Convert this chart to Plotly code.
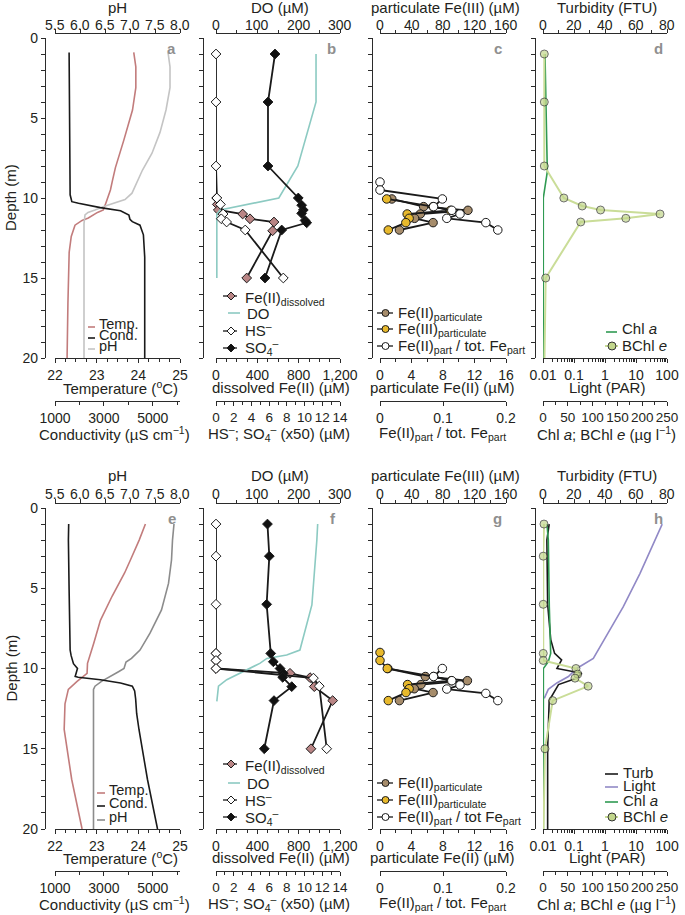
import plotly.graph_objects as go

# ---------------- DATA ----------------
# Panel a: CTD profiles (top row)
a_temp_depth = [0.9, 1.8, 3.1, 4.5, 6.4, 8.1, 8.9, 9.5, 10.25, 10.75, 10.9, 11.25, 11.4, 11.7, 12.4, 13.4, 16.6, 20.0]
a_temp = [23.89, 23.94, 23.94, 23.86, 23.65, 23.45, 23.38, 23.33, 23.23, 23.16, 23.02, 22.80, 22.65, 22.48, 22.39, 22.34, 22.31, 22.29]
a_cond_depth = [0.9, 5.0, 8.9, 9.8, 10.23, 10.33, 10.6, 10.8, 11.06, 11.33, 11.48, 11.7, 12.3, 13.7, 20.0]
a_cond = [1577, 1598, 1619, 1619, 1689, 1961, 2856, 3680, 4023, 4064, 4163, 4476, 4616, 4670, 4670]
a_ph_depth = [0.9, 1.8, 3.1, 4.5, 5.9, 7.2, 8.25, 8.9, 9.7, 10.1, 10.3, 10.55, 10.75, 10.9, 11.05, 11.6, 20.0]
a_ph = [7.76, 7.80, 7.80, 7.72, 7.60, 7.44, 7.25, 7.16, 7.04, 6.90, 6.70, 6.46, 6.30, 6.16, 6.10, 6.08, 6.08]

# Panel b
b_do_depth = [1, 4, 8, 10, 10.75, 11, 15]
b_do = [242, 242, 198, 152, 10, 2, 2]
b_hs_depth = [1, 4, 8, 10.0, 10.4, 11.0, 11.3, 11.5, 12.0, 15]
b_hs = [0, 0, 0, 0.1, 0.5, 0.8, 0.6, 1.2, 3.3, 7.6]
b_so4_depth = [1, 4, 8, 10.0, 10.45, 10.75, 10.96, 11.4, 11.55, 12.0, 15]
b_so4 = [6.66, 5.87, 5.87, 9.29, 9.67, 9.86, 9.67, 10.05, 10.24, 7.42, 5.53]
b_fe_depth = [10.0, 10.4, 10.75, 11.0, 11.3, 11.5, 12.05, 15]
b_fe = [6, 13, 22, 258, 329, 561, 548, 297]

# Panel c
c_fe_depth = [10.06, 10.54, 10.77, 11.0, 11.27, 11.54, 12.0]
c_fe2 = [1.5, 5.54, 11.17, 5.12, 4.39, 6.74, 2.47]
c_fe3 = [8.5, 67.3, 89.6, 34.5, 37.0, 32.8, 10.5]
c_ratio_depth = [9.0, 9.5, 10.06, 10.54, 10.77, 11.0, 11.27, 11.54, 12.0]
c_ratio = [0.0, 0.0, 0.099, 0.085, 0.114, 0.127, 0.106, 0.168, 0.187]

# Panel d
d_chl_depth = [1, 8, 8.35, 10, 20]
d_chl = [4, 8, 8.7, 0.6, 0.5]
d_bchl_depth = [1, 4, 8, 10, 10.5, 10.75, 11.0, 11.27, 11.5, 15, 20]
d_bchl = [2.6, 2.6, 2.6, 42, 79, 116, 236, 167, 76, 5.4, 3]

# Panel e (bottom row)
e_temp_depth = [1.0, 2.0, 3.24, 4.05, 5.5, 7.0, 8.43, 9.37, 9.68, 10.3, 10.8, 11.3, 12.2, 13.8, 16.9, 20.0]
e_temp = [24.17, 24.02, 23.81, 23.67, 23.37, 23.09, 22.93, 22.83, 22.78, 22.77, 22.53, 22.32, 22.24, 22.22, 22.40, 22.65]
e_cond_depth = [1.0, 2.0, 5.1, 8.85, 9.2, 9.7, 10.0, 10.3, 10.5, 10.55, 10.7, 10.9, 11.1, 11.4, 11.9, 12.8, 13.8, 16.9, 20.0]
e_cond = [1560, 1548, 1577, 1619, 1660, 1755, 1920, 1866, 1825, 1948, 2856, 3680, 4163, 4258, 4299, 4340, 4435, 4781, 5194]
e_ph_depth = [1.0, 2.0, 3.24, 4.7, 6.35, 7.8, 8.85, 9.37, 9.6, 10.0, 10.2, 10.5, 10.8, 11.1, 11.3, 20.0]
e_ph = [7.88, 7.85, 7.83, 7.77, 7.63, 7.40, 7.20, 7.03, 6.92, 6.88, 6.77, 6.60, 6.43, 6.30, 6.27, 6.27]

# Panel f
f_do_depth = [1, 2, 6.04, 8.85, 9.16, 9.37, 9.68, 10.3, 10.7, 11.1, 12.05]
f_do = [246, 244, 232, 203, 171, 123, 106, 58, 26, 6, 2]
f_hs_depth = [1, 3, 6, 9.06, 9.5, 10.0, 10.6, 11.1, 15]
f_hs = [0, 0, 0, 0, 0, 0, 11.0, 11.66, 12.5]
f_so4_depth = [1, 3, 6, 9.06, 9.58, 10.0, 10.3, 10.55, 11.13, 12.0, 15]
f_so4 = [5.81, 6.02, 5.72, 6.18, 6.47, 7.23, 7.6, 7.53, 8.55, 6.55, 5.45]
f_fe_depth = [9.06, 9.5, 10.0, 10.3, 10.57, 11.13, 12.0, 15]
f_fe = [0, 0, 0, 716, 910, 951, 1129, 919]

# Panel g
g_fe2_depth = [10.0, 10.5, 10.76, 11.0, 11.26, 11.5, 12.0]
g_fe2 = [1.0, 5.76, 11.1, 5.2, 4.35, 6.74, 2.47]
g_fe3_depth = [9.0, 9.5, 10.0, 10.5, 10.76, 11.0, 11.26, 11.5, 12.0]
g_fe3 = [0, 0, 9.2, 68, 90.5, 35, 37, 33, 10.5]
g_ratio_depth = [10.0, 10.5, 10.76, 11.03, 11.28, 11.55, 12.0]
g_ratio = [0.099, 0.085, 0.114, 0.127, 0.106, 0.168, 0.187]

# Panel h
h_light_depth = [1.0, 2.0, 4.07, 6.15, 7.6, 9.37, 10.0, 10.5, 10.9, 11.3, 11.86]
h_light = [70, 41, 13.5, 3.9, 1.45, 0.42, 0.122, 0.066, 0.028, 0.0148, 0.011]
h_turb_depth = [1, 2, 6, 8.2, 9.06, 9.47, 10.0, 10.3, 10.6, 11.0, 12.0, 15, 20]
h_turb = [4, 2.5, 3, 5, 7.5, 12, 9, 25, 22, 10, 4, 3, 3]
h_chl_depth = [1, 2, 6.15, 9.06, 9.58, 10.0, 20]
h_chl = [8, 10.7, 12.7, 15.5, 10.7, 0.7, 0.7]
h_bchl_depth = [1, 3, 6, 9.06, 9.5, 10.0, 10.35, 10.6, 11.1, 12.0, 15, 20]
h_bchl = [2, 0.5, 0.5, 0.5, 0.5, 66.5, 70, 64.5, 91, 19.5, 4, 1]

# Tick labels
depth_ticks = [0, 5, 10, 15, 20]
light_ticks = [0.01, 0.1, 1, 10, 100]
light_ticktext = ["0.01", "0.1", "1", "10", "100"]
ratio_ticks = [0, 0.1, 0.2]
ratio_ticktext = ["0", "0.1", "0.2"]
ph_ticks = [5.5, 6.0, 6.5, 7.0, 7.5, 8.0]
do_ticks = [0, 100, 200, 300]
fe3_ticks = [0, 40, 80, 120, 160]
turb_ticks = [0, 20, 40, 60, 80]
panel_letters = ["a", "b", "c", "d", "e", "f", "g", "h"]

# ---------------- STYLE / LAYOUT ----------------
W, H = 685, 915


def px(x):
    return x / W


def py(y):
    return 1 - y / H


FONT = "Liberation Sans, Arial, Helvetica, sans-serif"
TXT = "#231f20"
AX = "#2b2b2b"
FS = 15
TFS = 14

C_TEMP = "#c27c7c"
C_COND = "#1a1a1a"
C_PH = ["#c4c4c4", "#8c8c8c"]
C_DO = "#8ccac2"
C_FED = "#b98585"
C_FE2 = "#a68c6b"
C_FE3 = "#e8b92c"
C_CHL = "#2f9a52"
C_BCHL_L = "#cadd98"
C_BCHL_F = "#c2d68c"
C_LIGHT = "#9189c6"

COLS = [(45, 55, 180), (203, 216, 340), (372, 380, 506), (535, 543, 667)]
ROWS = [dict(top=38, bot=358, tline=33, sline=401, ttitle=8, tlab=25, btitle=387, stitle=433),
        dict(top=508, bot=829, tline=503, sline=871, ttitle=475, tlab=494, btitle=857, stitle=903)]

light_minor = [m * 10 ** e for e in range(-2, 2) for m in range(2, 10)]


def minor(**kw):
    d = dict(ticks="outside", ticklen=3, tickwidth=1, tickcolor=AX, showgrid=False)
    d.update(kw)
    return d


COL_SPECS = [
    dict(bottom=dict(range=[22, 25], tickvals=[22, 23, 24, 25], minor=minor(dtick=0.25)),
         top=dict(range=[5.5, 8.0], tickvals=ph_ticks, fmt="{:.1f}"),
         sec=dict(range=[1000, 6113], tickvals=[1000, 3000, 5000], minor=minor(dtick=1000, tick0=1000))),
    dict(bottom=dict(range=[0, 1200], tickvals=[0, 400, 800, 1200], tickformat=",", minor=minor(dtick=100, tick0=0)),
         top=dict(range=[0, 300], tickvals=do_ticks, minor=minor(dtick=50), fmt="{:g}"),
         sec=dict(range=[0, 14], dtick=2, minor=minor(dtick=1), tickfont=dict(family=FONT, size=13.5, color=TXT))),
    dict(bottom=dict(range=[0, 16], dtick=4, minor=minor(dtick=2)),
         top=dict(range=[0, 160], tickvals=fe3_ticks, minor=minor(dtick=20), fmt="{:g}"),
         sec=dict(range=[0, 0.2], tickvals=ratio_ticks, ticktext=ratio_ticktext)),
    dict(bottom=dict(type="log", range=[-2, 2], tickvals=light_ticks, ticktext=light_ticktext,
                     minor=minor(tickmode="array", tickvals=light_minor)),
         top=dict(range=[0, 80], tickvals=turb_ticks, minor=minor(dtick=10), fmt="{:g}"),
         sec=dict(range=[0, 250], dtick=50, minor=minor(dtick=25), tickfont=dict(family=FONT, size=13.5, color=TXT))),
]

TITLES = [
    ("pH", "Temperature (<sup>o</sup>C)", "Conductivity (µS cm<sup>−1</sup>)"),
    ("DO (µM)", "dissolved Fe(II) (µM)", "HS<sup>–</sup>; SO<sub>4</sub><sup>–</sup> (x50) (µM)"),
    ("particulate Fe(III) (µM)", "particulate Fe(II) (µM)", "Fe(II)<sub>part</sub> / tot. Fe<sub>part</sub>"),
    ("Turbidity (FTU)", "Light (PAR)", "Chl <i>a</i>; BChl <i>e</i> (µg l<sup>−1</sup>)"),
]
TITLE_X = [(117, 120, 114), (280, 281, 279), (445, 442, 442), (607, 607, 606)]

base_axis = dict(showline=True, linecolor=AX, linewidth=1.2, ticks="outside", ticklen=4,
                 tickwidth=1.2, tickcolor=AX, showgrid=False, zeroline=False, tickangle=0,
                 tickfont=dict(family=FONT, size=TFS, color=TXT), automargin=False, fixedrange=True)

layout = dict(width=W, height=H, margin=dict(l=0, r=0, t=0, b=0), showlegend=False,
              paper_bgcolor="white", plot_bgcolor="rgba(0,0,0,0)",
              font=dict(family=FONT, size=FS, color=TXT))
annotations = []
shapes = []


def xname(n):
    return "x" if n == 1 else f"x{n}"


def yname(n):
    return "y" if n == 1 else f"y{n}"


def xkey(n):
    return "xaxis" if n == 1 else f"xaxis{n}"


def ykey(n):
    return "yaxis" if n == 1 else f"yaxis{n}"


def text(x, y, t, anchor="center", size=FS, color=TXT, angle=0):
    annotations.append(dict(xref="paper", yref="paper", x=px(x), y=py(y), text=t, showarrow=False,
                            xanchor=anchor, yanchor="middle", textangle=angle,
                            font=dict(family=FONT, size=size, color=color)))


for r, row in enumerate(ROWS):
    for c, (yl, x0, x1) in enumerate(COLS):
        n = r * 4 + c + 1
        spec = COL_SPECS[c]
        ya = dict(base_axis, domain=[py(row["bot"]), py(row["top"])], range=[20, 0],
                  anchor="free", position=px(yl))
        if c == 0:
            ya.update(tickvals=depth_ticks, showticklabels=True, minor=minor(dtick=1, ticklen=4, tickwidth=1.2))
        else:
            ya.update(dtick=1, showticklabels=False)
        layout[ykey(n)] = ya
        dom = [px(x0), px(x1)]
        layout[xkey(n)] = dict(base_axis, domain=dom, anchor=yname(n), **spec["bottom"])
        top_spec = {k: v for k, v in spec["top"].items() if k != "fmt"}
        layout[xkey(n + 8)] = dict(base_axis, domain=dom, overlaying=xname(n), side="top",
                                   anchor="free", position=py(row["tline"]), showticklabels=False,
                                   **top_spec)
        # top-axis tick labels placed at the axis' own value-to-pixel scale
        lo, hi = spec["top"]["range"]
        for v in spec["top"]["tickvals"]:
            text(x0 + (v - lo) / (hi - lo) * (x1 - x0), row["tlab"], spec["top"]["fmt"].format(v), size=TFS)
        layout[xkey(n + 16)] = dict(base_axis, domain=dom, overlaying=xname(n), side="bottom",
                                    anchor="free", position=py(row["sline"]), **spec["sec"])
        tt, bt, st = TITLES[c]
        tx = TITLE_X[c]
        text(tx[0], row["ttitle"], tt)
        text(tx[1], row["btitle"], bt)
        text(tx[2], row["stitle"], st)
        # panel letter
        text(x1 - 2, row["top"] + 10, f"<b>{panel_letters[n - 1]}</b>", anchor="right", color="#8f8f8f")
    text(11, (row["top"] + row["bot"]) / 2, "Depth (m)", angle=-90)

fig = go.Figure()


def add(n_axis, n_y, x, y, mode="lines", line=None, marker=None):
    fig.add_trace(go.Scatter(x=x, y=y, mode=mode, xaxis=xname(n_axis), yaxis=yname(n_y),
                             line=line or {}, marker=marker or {}, hoverinfo="skip", cliponaxis=False))


LW = 1.6
conn = dict(color="#1a1a1a", width=1.8)


def dia(fill):
    return dict(symbol="diamond", size=7.5, color=fill, line=dict(color="#1a1a1a", width=1))


def circ(fill, size=8.5):
    return dict(symbol="circle", size=size, color=fill, line=dict(color="#1a1a1a", width=1))


# ---- row 1 ----
add(1, 1, a_temp, a_temp_depth, line=dict(color=C_TEMP, width=LW))
add(9, 1, a_ph, a_ph_depth, line=dict(color=C_PH[0], width=LW))
add(17, 1, a_cond, a_cond_depth, line=dict(color=C_COND, width=LW))

add(10, 2, b_do, b_do_depth, line=dict(color=C_DO, width=LW))
add(18, 2, b_hs, b_hs_depth, "lines+markers", conn, dia("white"))
add(18, 2, b_so4, b_so4_depth, "lines+markers", conn, dia("#111111"))
add(2, 2, b_fe, b_fe_depth, "lines+markers", conn, dia(C_FED))

add(19, 3, c_ratio, c_ratio_depth, "lines+markers", conn, circ("white"))
add(3, 3, c_fe2, c_fe_depth, "lines+markers", conn, circ(C_FE2))
add(11, 3, c_fe3, c_fe_depth, "lines+markers", conn, circ(C_FE3))

# panel d has no light / turbidity profile: empty traces keep those axes drawn
add(4, 4, [], [])
add(12, 4, [], [])
add(20, 4, d_chl, d_chl_depth, line=dict(color=C_CHL, width=LW))
d_sizes = [0 if dd >= 20 else 8 for dd in d_bchl_depth]
add(20, 4, d_bchl, d_bchl_depth, "lines+markers", dict(color=C_BCHL_L, width=2),
    dict(symbol="circle", size=d_sizes, color=C_BCHL_F, line=dict(color="#333333", width=1)))

# ---- row 2 ----
add(5, 5, e_temp, e_temp_depth, line=dict(color=C_TEMP, width=LW))
add(13, 5, e_ph, e_ph_depth, line=dict(color=C_PH[1], width=LW))
add(21, 5, e_cond, e_cond_depth, line=dict(color=C_COND, width=LW))

add(14, 6, f_do, f_do_depth, line=dict(color=C_DO, width=LW))
add(22, 6, f_hs, f_hs_depth, "lines+markers", conn, dia("white"))
add(22, 6, f_so4, f_so4_depth, "lines+markers", conn, dia("#111111"))
add(6, 6, f_fe, f_fe_depth, "lines+markers", conn, dia(C_FED))

add(23, 7, g_ratio, g_ratio_depth, "lines+markers", conn, circ("white"))
add(7, 7, g_fe2, g_fe2_depth, "lines+markers", conn, circ(C_FE2))
add(15, 7, g_fe3, g_fe3_depth, "lines+markers", conn, circ(C_FE3))

add(8, 8, h_light, h_light_depth, line=dict(color=C_LIGHT, width=LW))
add(16, 8, h_turb, h_turb_depth, line=dict(color="#1a1a1a", width=LW))
add(24, 8, h_chl, h_chl_depth, line=dict(color=C_CHL, width=LW))
h_sizes = [0 if dd >= 20 else 8 for dd in h_bchl_depth]
add(24, 8, h_bchl, h_bchl_depth, "lines+markers", dict(color=C_BCHL_L, width=2),
    dict(symbol="circle", size=h_sizes, color=C_BCHL_F, line=dict(color="#333333", width=1)))


# ---------------- legends (drawn as layout decorations) ----------------
def lline(x0, x1, y, color, width=1.6):
    shapes.append(dict(type="line", xref="paper", yref="paper", x0=px(x0), x1=px(x1),
                       y0=py(y), y1=py(y), line=dict(color=color, width=width)))


def lcircle(cx, cy, rad, fill, edge="#1a1a1a"):
    shapes.append(dict(type="circle", xref="paper", yref="paper", x0=px(cx - rad), x1=px(cx + rad),
                       y0=py(cy + rad), y1=py(cy - rad), fillcolor=fill, line=dict(color=edge, width=1)))


def ldiamond(cx, cy, rad, fill):
    path = (f"M {px(cx)},{py(cy - rad)} L {px(cx + rad)},{py(cy)} "
            f"L {px(cx)},{py(cy + rad)} L {px(cx - rad)},{py(cy)} Z")
    shapes.append(dict(type="path", xref="paper", yref="paper", path=path, fillcolor=fill,
                       line=dict(color="#1a1a1a", width=1)))


# panel a / e
for (tx, lx0, lx1, ys, cols) in [
    (97, 88, 95, [324, 335, 346], [C_TEMP, C_COND, C_PH[0]]),
    (107, 97, 105, [790, 803, 817], [C_TEMP, C_COND, C_PH[1]]),
]:
    for lab, yy, col in zip(["Temp.", "Cond.", "pH"], ys, cols):
        lline(lx0, lx1, yy + 3, col)
        text(tx, yy, lab, anchor="left", size=14.5)

# panel b / f
for ys in ([296, 313, 331, 348], [764, 783, 800, 817]):
    lline(223, 237, ys[0], "#1a1a1a", 1.3); ldiamond(231, ys[0], 4, C_FED)
    text(243, ys[0] + 2, "Fe(II)<sub>dissolved</sub>", anchor="left")
    lline(228, 240, ys[1], C_DO, 1.6)
    text(245, ys[1], "DO", anchor="left")
    lline(223, 237, ys[2], "#1a1a1a", 1.3); ldiamond(231, ys[2], 4, "white")
    text(243, ys[2] - 1, "HS<sup>–</sup>", anchor="left")
    lline(223, 237, ys[3], "#1a1a1a", 1.3); ldiamond(231, ys[3], 4, "#111111")
    text(243, ys[3], "SO<sub>4</sub><sup>–</sup>", anchor="left")

# panel c / g
for ys, lab3 in (([313, 329, 346], "Fe(II)<sub>part</sub> / tot. Fe<sub>part</sub>"),
                 ([783, 800, 817], "Fe(II)<sub>part</sub> / tot Fe<sub>part</sub>")):
    for yy, fill, lab in zip(ys, [C_FE2, C_FE3, "white"],
                             ["Fe(II)<sub>particulate</sub>", "Fe(III)<sub>particulate</sub>", lab3]):
        lline(377, 393, yy, "#1a1a1a", 1.3)
        lcircle(385.5, yy, 3.5, fill)
        text(396, yy, lab, anchor="left")

# panel d
lline(606, 617, 332, C_CHL)
text(620, 328, "Chl <i>a</i>", anchor="left")
lline(605, 618, 346, C_BCHL_L, 2)
lcircle(612, 346, 4, C_BCHL_F, "#333333")
text(620, 345, "BChl <i>e</i>", anchor="left")
# panel h
for yy, col, lab in zip([772, 785, 800], ["#1a1a1a", C_LIGHT, C_CHL], ["Turb", "Light", "Chl <i>a</i>"]):
    lline(605, 618, yy + 2, col)
    text(621, yy, lab, anchor="left")
lline(605, 618, 817, C_BCHL_L, 2)
lcircle(612, 817, 4, C_BCHL_F, "#333333")
text(621, 816, "BChl <i>e</i>", anchor="left")

layout["annotations"] = annotations
layout["shapes"] = shapes
fig.update_layout(**layout)
# the page body has a default 8px margin; remove it so the figure sits at the window origin
fig.write_html("out.html", config={"displayModeBar": False},
               post_script="document.body.style.margin='0px';")
